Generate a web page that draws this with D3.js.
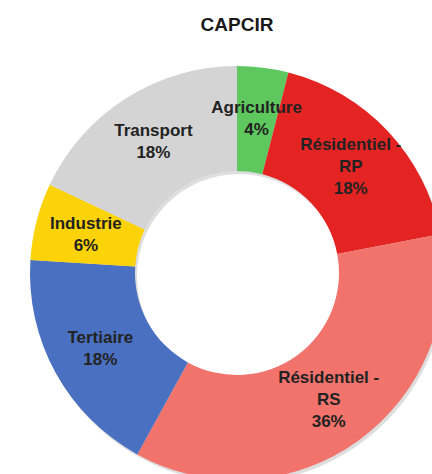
<!DOCTYPE html>
<html>
<head>
<meta charset="utf-8">
<script src="https://cdn.jsdelivr.net/npm/d3@7"></script>
<style>
  body { margin: 0; background: #fff; overflow: hidden; }
  text { font-family: "Liberation Sans", Arial, sans-serif; }
</style>
</head>
<body>
<div id="chart"></div>
<script>
// Chart data
const title = "CAPCIR";
const sectors = ["Agriculture", "Résidentiel - RP", "Résidentiel - RS", "Tertiaire", "Industrie", "Transport"];
const shares = [4, 18, 36, 18, 6, 18];
const labelLines = [["Agriculture"], ["Résidentiel -", "RP"], ["Résidentiel -", "RS"], ["Tertiaire"], ["Industrie"], ["Transport"]];
const colors = ["#5ec75e", "#e42422", "#f1736c", "#4a71c1", "#fcd208", "#d4d4d4"];

const width = 432;
const height = 474;
const cx = 237, cy = 273;
const outerR = 207, innerR = 102;

const svg = d3.select("#chart")
    .append("svg")
    .attr("width", width)
    .attr("height", height);

// Title
svg.append("text")
    .attr("x", 237)
    .attr("y", 31)
    .attr("text-anchor", "middle")
    .style("font-size", "19px")
    .style("font-weight", "bold")
    .style("fill", "#1a1a1a")
    .text(title);

const pie = d3.pie().sort(null).value(d => d);
const arcs = pie(shares);

const arc = d3.arc().innerRadius(innerR).outerRadius(outerR);
const labelArc = d3.arc().innerRadius(156).outerRadius(156);

const g = svg.append("g").attr("transform", `translate(${cx},${cy})`);

// soft shadow behind the ring (ring only, hole stays white)
g.append("path")
    .attr("transform", "translate(2,3)")
    .attr("d", d3.arc().innerRadius(innerR).outerRadius(outerR)({startAngle: 0, endAngle: 2 * Math.PI}))
    .style("fill", "#c8c8c8")
    .style("opacity", 0.6);

g.selectAll("path.slice")
    .data(arcs)
    .enter().append("path")
    .attr("class", "slice")
    .attr("d", arc)
    .style("fill", (d, i) => colors[i]);

// Labels: name lines + percent
const lineH = 22;
arcs.forEach((d, i) => {
    const [x, y] = labelArc.centroid(d);
    const lines = labelLines[i].concat([shares[i] + "%"]);
    const y0 = y - (lines.length - 1) * lineH / 2;
    const t = g.append("text")
        .attr("text-anchor", "middle")
        .style("font-size", "17px")
        .style("font-weight", "bold")
        .style("fill", "#222");
    lines.forEach((s, k) => {
        t.append("tspan")
            .attr("x", x)
            .attr("y", y0 + k * lineH)
            .attr("dy", "0.35em")
            .text(s);
    });
});
</script>
</body>
</html>
